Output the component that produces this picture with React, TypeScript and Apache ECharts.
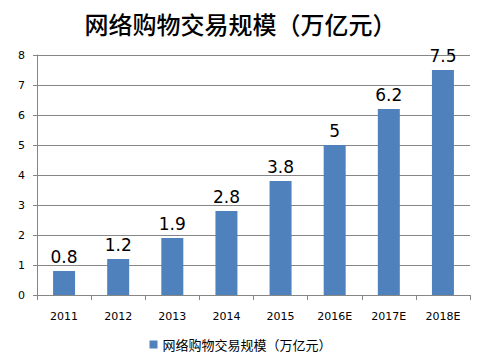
import React, { useEffect, useRef } from "react";
import * as echarts from "echarts";

const categories = ["2011", "2012", "2013", "2014", "2015", "2016E", "2017E", "2018E"];
const values = [0.8, 1.2, 1.9, 2.8, 3.8, 5, 6.2, 7.5];
const seriesName = "网络购物交易规模（万亿元）";
const titleText = "网络购物交易规模（万亿元）";

export default function App() {
  const ref = useRef<HTMLDivElement>(null);
  useEffect(() => {
    if (!ref.current) return;
    const chart = echarts.init(ref.current, null, { renderer: "svg" });
    const font = "'Noto Sans CJK SC', 'DejaVu Sans', sans-serif";
    chart.setOption({
      animation: false,
      backgroundColor: "#ffffff",
      title: {
        text: titleText,
        left: "center",
        top: 6,
        textStyle: { fontFamily: font, fontSize: 24, fontWeight: 500, color: "#000000" },
      },
      grid: { left: 37, right: 11, top: 55, bottom: 66 },
      legend: {
        bottom: 5,
        left: "center",
        itemWidth: 8,
        itemHeight: 8,
        icon: "rect",
        textStyle: { fontFamily: font, fontSize: 13, color: "#000000" },
        data: [seriesName],
      },
      xAxis: {
        type: "category",
        data: categories,
        axisLine: { lineStyle: { color: "#868686", width: 1 } },
        axisTick: { show: true, alignWithLabel: false, length: 5, lineStyle: { color: "#868686" } },
        axisLabel: { fontFamily: "'DejaVu Sans', sans-serif", fontSize: 11, color: "#000000", margin: 16 },
      },
      yAxis: {
        type: "value",
        min: 0,
        max: 8,
        interval: 1,
        axisLine: { show: true, lineStyle: { color: "#868686", width: 1 } },
        axisTick: { show: true, length: 4, lineStyle: { color: "#868686" } },
        splitLine: { show: true, lineStyle: { color: "#868686", width: 1 } },
        axisLabel: { fontFamily: "'DejaVu Sans', sans-serif", fontSize: 11, color: "#000000", margin: 12 },
      },
      series: [
        {
          name: seriesName,
          type: "bar",
          data: values,
          barWidth: 22,
          itemStyle: { color: "#4f81bd" },
          label: {
            show: true,
            position: "top",
            distance: 6,
            fontFamily: "'DejaVu Sans', sans-serif",
            fontSize: 17,
            color: "#000000",
          },
        },
      ],
    });
    return () => chart.dispose();
  }, []);
  return <div ref={ref} style={{ width: 481, height: 361, position: "absolute", left: 0, top: 0 }} />;
}
